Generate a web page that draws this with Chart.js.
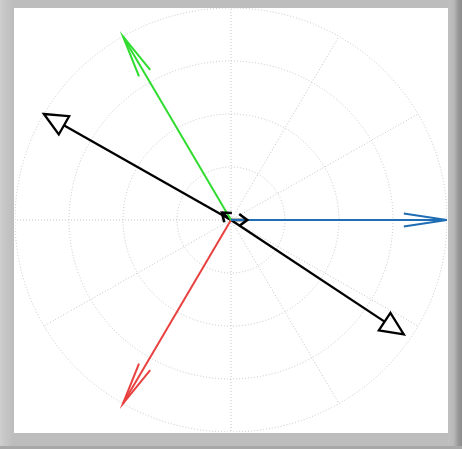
<!DOCTYPE html>
<html>
<head>
<meta charset="utf-8">
<script src="https://cdn.jsdelivr.net/npm/chart.js@4"></script>
<style>
  html, body { margin: 0; padding: 0; }
  body {
    width: 462px; height: 449px; position: relative; overflow: hidden;
    background: #bdbdbd;
  }
  #edgeL { position: absolute; left: 0; top: 0; width: 14px; height: 449px;
    background: linear-gradient(to right, #cfcfcf 0px, #c9c9c9 3px, #c3c3c3 8px, #bcbcbc 14px); }
  #edgeR { position: absolute; left: 448px; top: 0; width: 14px; height: 449px;
    background: linear-gradient(to right, #c0c0c0 0px, #b8b8b8 6px, #9a9a9a 10px, #8a8a8a 14px); }
  #edgeB { position: absolute; left: 0; top: 446px; width: 462px; height: 3px; background: #a8a8a8; }
  #panel { position: absolute; left: 14px; top: 8px; width: 434px; height: 425px; background: #ffffff; }
  #plot { position: absolute; left: 15px; top: 8px; }
</style>
</head>
<body>
<div id="edgeL"></div>
<div id="edgeR"></div>
<div id="edgeB"></div>
<div id="panel"></div>
<canvas id="plot" width="432" height="424"></canvas>
<script>
// Phasor magnitudes and angles (degrees, counter-clockwise from +x)
const magnitudes = [4.0, 4.0, 4.0, 4.0, 3.86, 0.30, 0.22];
const anglesDeg  = [0, 120, 240, 150, 326, 0, 140];
// Radial grid rings and angular spokes
const ringValues = [1, 2, 3, 4];
const spokeAnglesDeg = [0, 30, 60, 90, 120, 150, 180, 210, 240, 270, 300, 330];
const rMax = 4;

// Drawing style of each phasor
const lineColors = ['#1f6db4', '#2fdc2f', '#e8413f', '#000000', '#000000', '#000000', '#000000'];
const lineWidths = [2, 2, 2, 2.3, 2.3, 2.6, 2.6];
const headKinds  = ['barb', 'barb', 'barb', 'tri', 'tri', 'smallbarb', 'smallbarb'];
const drawOrder  = [0, 1, 2, 5, 6, 3, 4];

const rad = d => d * Math.PI / 180;

const datasets = drawOrder.map(i => ({
  data: [
    { x: 0, y: 0 },
    { x: magnitudes[i] * Math.cos(rad(anglesDeg[i])), y: magnitudes[i] * Math.sin(rad(anglesDeg[i])) }
  ],
  showLine: true,
  borderColor: lineColors[i],
  borderWidth: lineWidths[i],
  pointRadius: 0,
  clip: false,
  headKind: headKinds[i]
}));

// Polar grid: dotted rings and spokes
const polarGrid = {
  id: 'polarGrid',
  beforeDatasetsDraw(chart) {
    const { ctx, scales: { x, y } } = chart;
    const cx = x.getPixelForValue(0), cy = y.getPixelForValue(0);
    ctx.save();
    ctx.strokeStyle = '#c4c4c4';
    ctx.lineWidth = 1;
    ctx.setLineDash([1, 2]);
    ringValues.forEach(r => {
      const rx = x.getPixelForValue(r) - cx;
      const ry = cy - y.getPixelForValue(r);
      ctx.beginPath();
      ctx.ellipse(cx, cy, rx, ry, 0, 0, Math.PI * 2);
      ctx.stroke();
    });
    spokeAnglesDeg.forEach(a => {
      const px = x.getPixelForValue(rMax * Math.cos(rad(a)));
      const py = y.getPixelForValue(rMax * Math.sin(rad(a)));
      ctx.beginPath();
      ctx.moveTo(cx, cy);
      ctx.lineTo(px, py);
      ctx.stroke();
    });
    ctx.restore();
  }
};

// Arrow heads at the end of each phasor line
const arrowHeads = {
  id: 'arrowHeads',
  afterDatasetsDraw(chart) {
    const { ctx } = chart;
    chart.data.datasets.forEach((ds, di) => {
      const pts = chart.getDatasetMeta(di).data;
      const x0 = pts[0].x, y0 = pts[0].y, x1 = pts[1].x, y1 = pts[1].y;
      const len = Math.hypot(x1 - x0, y1 - y0);
      const ux = (x1 - x0) / len, uy = (y1 - y0) / len;
      const px = -uy, py = ux;
      ctx.save();
      ctx.strokeStyle = ds.borderColor;
      ctx.lineWidth = ds.borderWidth;
      ctx.lineJoin = 'miter';
      if (ds.headKind === 'barb' || ds.headKind === 'smallbarb') {
        const hl = ds.headKind === 'barb' ? 0.2 * len : 8;
        const hw = ds.headKind === 'barb' ? 6.5 : 6;
        const bx = x1 - ux * hl, by = y1 - uy * hl;
        ctx.beginPath();
        ctx.moveTo(bx + px * hw, by + py * hw);
        ctx.lineTo(x1, y1);
        ctx.lineTo(bx - px * hw, by - py * hw);
        ctx.stroke();
      } else if (ds.headKind === 'tri') {
        const hl = 23, hw = 10.5;
        const bx = x1 - ux * hl, by = y1 - uy * hl;
        ctx.fillStyle = '#ffffff';
        ctx.beginPath();
        ctx.moveTo(x1, y1);
        ctx.lineTo(bx + px * hw, by + py * hw);
        ctx.lineTo(bx - px * hw, by - py * hw);
        ctx.closePath();
        ctx.fill();
        ctx.stroke();
      }
      ctx.restore();
    });
  }
};

new Chart(document.getElementById('plot'), {
  type: 'scatter',
  data: { datasets },
  options: {
    responsive: false,
    animation: false,
    layout: { padding: 0 },
    plugins: { legend: { display: false }, tooltip: { enabled: false } },
    scales: {
      x: { type: 'linear', min: -rMax, max: rMax, display: false },
      y: { type: 'linear', min: -rMax, max: rMax, display: false }
    }
  },
  plugins: [polarGrid, arrowHeads]
});
</script>
</body>
</html>
